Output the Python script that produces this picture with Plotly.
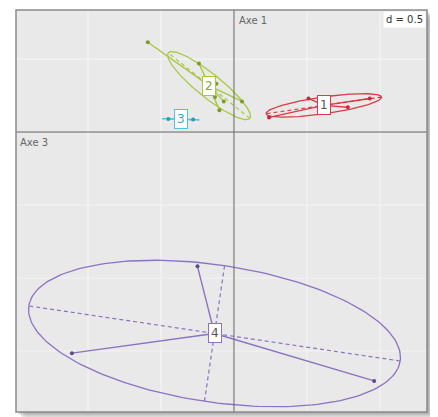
import numpy as np
import plotly.graph_objects as go

# ---- data (factorial coordinates) ----
groups = ["1", "2", "3", "4"]
g1_x = [0.51, 0.93, 0.78, 0.24]
g1_y = [0.23, 0.23, 0.17, 0.10]
g2_x = [-0.59, -0.24, -0.12, -0.13, -0.07, -0.10, 0.055]
g2_y = [0.615, 0.47, 0.33, 0.24, 0.21, 0.15, 0.21]
g3_x = [-0.45, -0.28]
g3_y = [0.09, 0.085]
g4_x = [-0.25, -1.11, 0.96]
g4_y = [-0.92, -1.515, -1.705]
grid_step = 0.5
x_range = [-1.493, 1.322]
y_range = [-1.918, 0.836]

colors = ["#dc3a44", "#a8c840", "#52c3de", "#8c72c2"]
dot_colors = ["#c8283a", "#7f9a2a", "#2a9ab8", "#5e4a8a"]
text_colors = ["#555555", "#8aa830", "#35a8c8", "#555555"]

series = [(g1_x, g1_y), (g2_x, g2_y), (g3_x, g3_y), (g4_x, g4_y)]

fig = go.Figure()

# drop shadow (outside the panel), then panel background
for k, op in enumerate([0.12, 0.09, 0.07, 0.05, 0.03, 0.02]):
    d = 0.004 * (k + 1)
    fig.add_shape(type="rect", xref="paper", yref="paper",
                  x0=0.0 + d, x1=1.0 + d, y0=0.0 - d, y1=1.0 - d,
                  line=dict(width=0), fillcolor=f"rgba(0,0,0,{op})", layer="below")
fig.add_shape(type="rect", xref="paper", yref="paper", x0=0, x1=1, y0=0, y1=1,
              line=dict(width=0), fillcolor="#e9e9e9", layer="below")

# grid + axes
for gx in np.arange(-3, 3.01, grid_step):
    if x_range[0] < gx < x_range[1] and abs(gx) > 1e-9:
        fig.add_shape(type="line", x0=gx, x1=gx, y0=y_range[0], y1=y_range[1],
                      line=dict(color="#f4f4f4", width=1.2), layer="below")
for gy in np.arange(-3, 3.01, grid_step):
    if y_range[0] < gy < y_range[1] and abs(gy) > 1e-9:
        fig.add_shape(type="line", y0=gy, y1=gy, x0=x_range[0], x1=x_range[1],
                      line=dict(color="#f4f4f4", width=1.2), layer="below")
fig.add_shape(type="line", x0=0, x1=0, y0=y_range[0], y1=y_range[1],
              line=dict(color="#666666", width=1))
fig.add_shape(type="line", y0=0, y1=0, x0=x_range[0], x1=x_range[1],
              line=dict(color="#666666", width=1))

t = np.linspace(0, 2 * np.pi, 200)
for i, (xs, ys) in enumerate(series):
    xs = np.array(xs); ys = np.array(ys)
    mx, my = xs.mean(), ys.mean()
    cov = np.cov(np.vstack([xs, ys]), bias=True)
    vals, vecs = np.linalg.eigh(cov)
    order = np.argsort(vals)[::-1]
    vals = np.clip(vals[order], 0, None); vecs = vecs[:, order]
    a, b = 1.5 * np.sqrt(vals)
    v1, v2 = vecs[:, 0], vecs[:, 1]
    ex = mx + a * np.cos(t) * v1[0] + b * np.sin(t) * v2[0]
    ey = my + a * np.cos(t) * v1[1] + b * np.sin(t) * v2[1]
    col = colors[i]
    fig.add_trace(go.Scatter(x=ex, y=ey, mode="lines",
                             line=dict(color=col, width=1.3), hoverinfo="skip"))
    for v, L in ((v1, a), (v2, b)):
        if L > 1e-6:
            fig.add_trace(go.Scatter(x=[mx - L * v[0], mx + L * v[0]],
                                     y=[my - L * v[1], my + L * v[1]],
                                     mode="lines",
                                     line=dict(color=col, width=1.2, dash="4px,3px"),
                                     hoverinfo="skip"))
    sx, sy = [], []
    for px, py in zip(xs, ys):
        sx += [mx, px, None]; sy += [my, py, None]
    fig.add_trace(go.Scatter(x=sx, y=sy, mode="lines",
                             line=dict(color=col, width=1.4), hoverinfo="skip"))
    fig.add_trace(go.Scatter(x=xs, y=ys, mode="markers",
                             marker=dict(color=dot_colors[i], size=4), hoverinfo="skip"))
    fig.add_annotation(x=mx, y=my, text=groups[i], showarrow=False,
                       font=dict(family="DejaVu Sans", size=12, color=text_colors[i]),
                       bgcolor="white", bordercolor=col, borderwidth=1, borderpad=2)

fig.add_annotation(x=0, y=1, xref="x", yref="paper", text="Axe 1", showarrow=False,
                   xanchor="left", yanchor="top", xshift=3, yshift=-3,
                   font=dict(family="DejaVu Sans", size=10, color="#666666"))
fig.add_annotation(x=0, y=0, xref="paper", yref="y", text="Axe 3", showarrow=False,
                   xanchor="left", yanchor="top", xshift=2, yshift=-3,
                   font=dict(family="DejaVu Sans", size=10, color="#666666"))
fig.add_annotation(x=1, y=1, xref="paper", yref="paper", text="d = 0.5", showarrow=False,
                   xanchor="right", yanchor="top", xshift=-1, yshift=-1,
                   bgcolor="white", borderpad=2,
                   font=dict(family="DejaVu Sans", size=10, color="#333333"))

fig.add_shape(type="rect", xref="paper", yref="paper", x0=0, x1=1, y0=0, y1=1,
              line=dict(color="#8a8a8a", width=1.5))

# page body has an 8px margin: figure sized so that the panel lands at x 16-427, y 10-412
fig.update_layout(
    width=430, height=409,
    margin=dict(l=8, r=11, t=2, b=5),
    paper_bgcolor="white", plot_bgcolor="rgba(0,0,0,0)",
    showlegend=False,
    xaxis=dict(range=x_range, showgrid=False, zeroline=False, showticklabels=False,
               ticks="", fixedrange=True),
    yaxis=dict(range=y_range, showgrid=False, zeroline=False, showticklabels=False,
               ticks="", fixedrange=True),
)
fig.write_html("out.html")
